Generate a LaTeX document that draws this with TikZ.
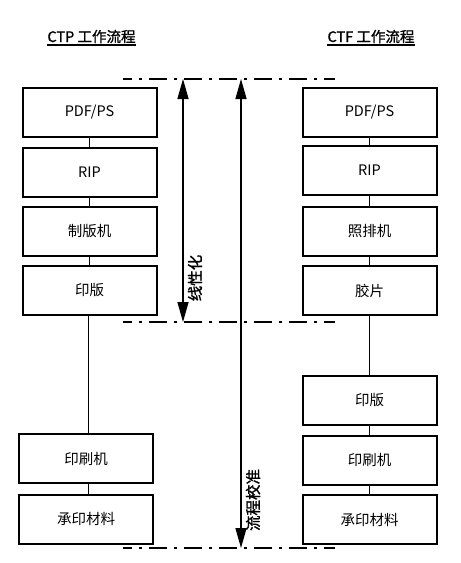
\documentclass[tikz,border=0pt]{standalone}
\usepackage{fontspec}
\setmainfont{Noto Sans CJK SC}
\newfontfamily\cjkfont{Noto Sans CJK SC}
\newfontfamily\cjkmed[FakeBold=1.2]{Noto Sans CJK SC}
\usetikzlibrary{arrows.meta}
\begin{document}
\begin{tikzpicture}[x=1pt,y=-1pt,
  box/.style={draw, line width=2pt, minimum width=134pt, minimum height=49pt,
    inner sep=0pt, font=\cjkfont\fontsize{14.5}{16}\selectfont},
  link/.style={line width=1pt},
  ddline/.style={line width=2pt, dash pattern=on 18pt off 7pt on 3pt off 7pt, dash phase=9pt},
  dim/.style={line width=1.5pt, {Triangle[length=20pt,width=11pt]}-{Triangle[length=20pt,width=11pt]}},
  vlabel/.style={rotate=90, font=\cjkmed\fontsize{15.5}{17}\selectfont, inner sep=0pt},
  ttl/.style={font=\cjkmed\fontsize{14.5}{16}\selectfont, inner xsep=0pt, inner ysep=1pt}
]
\useasboundingbox (0,0) rectangle (461,563);

% titles
\node[ttl] (t1) at (91.5,36.5) {CTP 工作流程};
\node[ttl] (t2) at (371,36.5) {CTF 工作流程};
\draw[line width=1.3pt] ([yshift=-3pt]t1.base west) -- ([yshift=-3pt]t1.base east);
\draw[line width=1.3pt] ([yshift=-3pt]t2.base west) -- ([yshift=-3pt]t2.base east);

% left column (CTP)
\node[box] (l1) at (89.5,112) {PDF/PS};
\node[box] (l2) at (89.5,172) {RIP};
\node[box] (l3) at (89.5,231.5) {制版机};
\node[box] (l4) at (89.5,290.5) {印版};
\node[box] (l5) at (86,458.5) {印刷机};
\node[box] (l6) at (86,519) {承印材料};

% right column (CTF)
\node[box] (r1) at (369.5,112) {PDF/PS};
\node[box] (r2) at (369.5,170.5) {RIP};
\node[box] (r3) at (369.5,231) {照排机};
\node[box] (r4) at (369.5,290.5) {胶片};
\node[box] (r5) at (369.5,400.5) {印版};
\node[box] (r6) at (369.5,460) {印刷机};
\node[box] (r7) at (369.5,519.5) {承印材料};

% connectors
\draw[link] (l1) -- (l2);
\draw[link] (l2) -- (l3);
\draw[link] (l3) -- (l4);
\draw[link] ([xshift=-1.5pt]l4.south) -- ([xshift=-1.5pt]l4.south |- l5.north);
\draw[link] ([xshift=2pt]l5.south) -- ([xshift=2pt]l6.north);
\draw[link] (r1) -- (r2);
\draw[link] (r2) -- (r3);
\draw[link] (r3) -- (r4);
\draw[link] (r4) -- (r5);
\draw[link] (r5) -- (r6);
\draw[link] (r6) -- (r7);

% dash-dot reference lines
\coordinate (d1a) at (123,79);  \coordinate (d1b) at (335,79);
\coordinate (d2a) at (123,322); \coordinate (d2b) at (335,322);
\coordinate (d3a) at (123,548); \coordinate (d3b) at (335,548);
\draw[ddline] (d1a) -- (d1b);
\draw[ddline] (d2a) -- (d2b);
\draw[ddline] (d3a) -- (d3b);

% dimension arrows
\coordinate (a1t) at (183,79);  \coordinate (a1b) at (183,322);
\coordinate (a2t) at (241,79);  \coordinate (a2b) at (241,548);
\draw[dim] (a1t) -- (a1b);
\draw[dim] (a2t) -- (a2b);
\node[vlabel] (lab1) at (195,278) {线性化};
\node[vlabel] (lab2) at (253,500) {流程校准};
\end{tikzpicture}
\end{document}
